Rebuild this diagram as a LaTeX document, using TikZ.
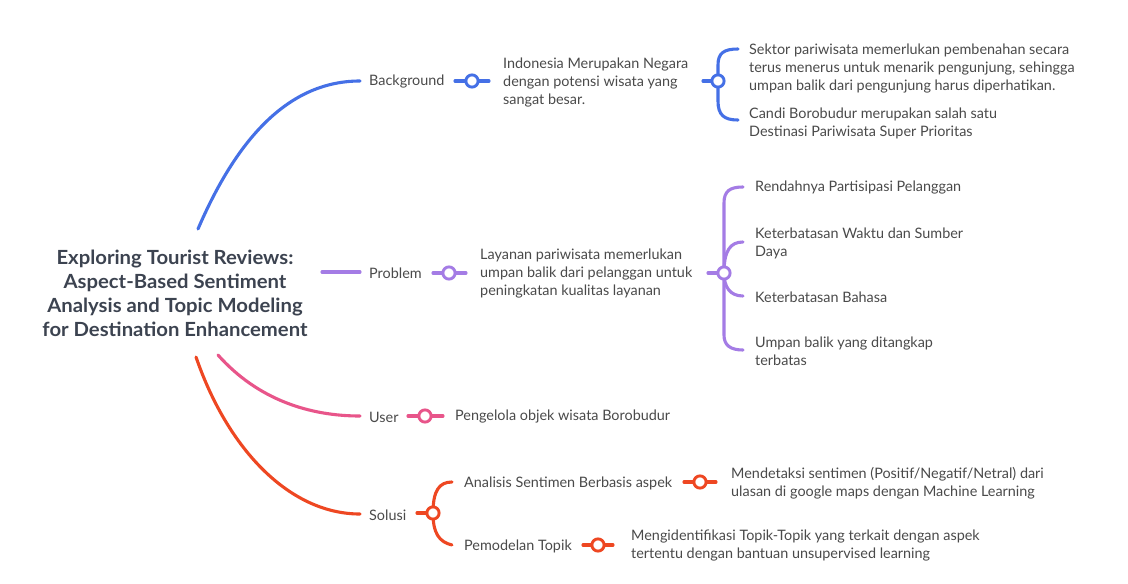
\documentclass[tikz,border=0pt]{standalone}
\usepackage{fontspec}
\setmainfont{Lato}
\newfontfamily\titlefont[FakeStretch=1.04]{Lato}
\usetikzlibrary{calc}
\definecolor{cblue}{HTML}{4570E6}
\definecolor{cpurple}{HTML}{A47CE5}
\definecolor{cpink}{HTML}{E8558A}
\definecolor{cred}{HTML}{EE4722}
\definecolor{textgray}{HTML}{4A4A4A}
\definecolor{titlegray}{HTML}{3C4350}
\begin{document}
\begin{tikzpicture}[x=1pt,y=-1pt,
  txt/.style={inner sep=0pt, anchor=west, align=left, text=textgray, font=\fontsize{14.4}{18}\selectfont},
  ttl/.style={inner sep=0pt, align=center, text=titlegray, font=\titlefont\bfseries\fontsize{19.5}{24}\selectfont},
  conn/.style={line width=3.1pt, line cap=round},
  knob/.style={circle, draw, fill=white, line width=2.9pt, minimum size=12.2pt, inner sep=0pt}]
\useasboundingbox[fill=white] (0,0) rectangle (1128,584);

% nodes
\node[ttl] (title) at (175,293) {Exploring Tourist Reviews:\\Aspect-Based Sentiment\\Analysis and Topic Modeling\\for Destination Enhancement};

\node[txt] (bg) at (369,82) {Background};
\node[txt] (bg1) at (503,83) {Indonesia Merupakan Negara\\dengan potensi wisata yang\\sangat besar.};
\node[txt] (bg11) at (749,69) {Sektor pariwisata memerlukan pembenahan secara\\terus menerus untuk menarik pengunjung, sehingga\\umpan balik dari pengunjung harus diperhatikan.};
\node[txt] (bg12) at (749,123) {Candi Borobudur merupakan salah satu\\Destinasi Pariwisata Super Prioritas};

\node[txt] (pr) at (369,273) {Problem};
\node[txt] (pr1) at (480,274) {Layanan pariwisata memerlukan\\umpan balik dari pelanggan untuk\\peningkatan kualitas layanan};
\node[txt] (pr11) at (755,188) {Rendahnya Partisipasi Pelanggan};
\node[txt] (pr12) at (755,243) {Keterbatasan Waktu dan Sumber\\Daya};
\node[txt] (pr13) at (755,297) {Keterbatasan Bahasa};
\node[txt] (pr14) at (755,351) {Umpan balik yang ditangkap\\terbatas};

\node[txt] (us) at (369,417) {User};
\node[txt] (us1) at (455,417) {Pengelola objek wisata Borobudur};

\node[txt] (so) at (369,515) {Solusi};
\node[txt] (so1) at (464,483) {Analisis Sentimen Berbasis aspek};
\node[txt] (so11) at (731,483) {Mendetaksi sentimen (Positif/Negatif/Netral) dari\\ulasan di google maps dengan Machine Learning};
\node[txt] (so2) at (464,546) {Pemodelan Topik};
\node[txt] (so21) at (631,546) {Mengidentifikasi Topik-Topik yang terkait dengan aspek\\tertentu dengan bantuan unsupervised learning};

% anchor coordinates
\coordinate (tB) at (198,229);
\coordinate (tP) at (322,272);
\coordinate (tU) at (218,355);
\coordinate (tS) at (196,357);
\coordinate (eB) at ($(bg.west)+(-9,-1)$);
\coordinate (eP) at ($(pr.west)+(-9,-1)$);
\coordinate (eU) at ($(us.west)+(-9,-1)$);
\coordinate (eS) at ($(so.west)+(-9,-1)$);

% circle positions
\coordinate (kb) at (472,81);
\coordinate (kb1) at (718,81);
\coordinate (kp) at (449,273);
\coordinate (kp1) at (724,273);
\coordinate (ku) at (425,416);
\coordinate (ks) at (433,513);
\coordinate (ks1) at (700,482);
\coordinate (ks2) at (598,545);

% main branches
\draw[conn, cblue] (tB) .. controls (232,150) and (282,81) .. (eB);
\draw[conn, cpurple] (tP) -- (eP);
\draw[conn, cpink] (tU) .. controls (258,400) and (310,416) .. (eU);
\draw[conn, cred] (tS) .. controls (228,450) and (290,514) .. (eS);

% blue
\draw[conn, cblue] ($(kb)+(-17,0)$) -- ($(kb)+(17,0)$);
\draw[conn, cblue] ($(kb1)+(-15,0)$) -- (kb1);
\draw[conn, cblue] (kb1) -- ($(kb1)+(0,-16)$) .. controls ($(kb1)+(0,-28)$) and ($(kb1)+(6,-32)$) .. ($(bg11.west)+(-11,-20)$);
\draw[conn, cblue] (kb1) -- ($(kb1)+(0,20)$) .. controls ($(kb1)+(0,34)$) and ($(kb1)+(6,39)$) .. ($(bg12.west)+(-11,-3)$);

% purple
\draw[conn, cpurple] ($(kp)+(-16,0)$) -- ($(kp)+(17,0)$);
\draw[conn, cpurple] ($(kp1)+(-16,0)$) -- (kp1);
\draw[conn, cpurple] (kp1) -- ($(kp1)+(0,-70)$) .. controls ($(kp1)+(0,-82)$) and ($(kp1)+(6,-86)$) .. ($(pr11.west)+(-12,-1)$);
\draw[conn, cpurple] (kp1) .. controls ($(kp1)+(0,-22)$) and ($(kp1)+(6,-31)$) .. ($(pr12.west)+(-12,-1)$);
\draw[conn, cpurple] (kp1) .. controls ($(kp1)+(0,14)$) and ($(kp1)+(6,23)$) .. ($(pr13.west)+(-12,-1)$);
\draw[conn, cpurple] (kp1) -- ($(kp1)+(0,62)$) .. controls ($(kp1)+(0,72)$) and ($(kp1)+(6,77)$) .. ($(pr14.west)+(-12,-1)$);

% pink
\draw[conn, cpink] ($(ku)+(-17,0)$) -- ($(ku)+(18,0)$);

% red
\draw[conn, cred] ($(ks)+(-16,0)$) -- (ks);
\draw[conn, cred] (ks) .. controls ($(ks)+(0,-22)$) and ($(ks)+(6,-31)$) .. ($(so1.west)+(-12,-1)$);
\draw[conn, cred] (ks) .. controls ($(ks)+(0,20)$) and ($(ks)+(6,29)$) .. ($(so2.west)+(-12,-1)$);
\draw[conn, cred] ($(ks1)+(-16,0)$) -- ($(ks1)+(16,0)$);
\draw[conn, cred] ($(ks2)+(-15,0)$) -- ($(ks2)+(15,0)$);

% knobs on top
\node[knob, draw=cblue] (nkb) at (kb) {};
\node[knob, draw=cblue] (nkb1) at (kb1) {};
\node[knob, draw=cpurple] (nkp) at (kp) {};
\node[knob, draw=cpurple] (nkp1) at (kp1) {};
\node[knob, draw=cpink] (nku) at (ku) {};
\node[knob, draw=cred] (nks) at (ks) {};
\node[knob, draw=cred] (nks1) at (ks1) {};
\node[knob, draw=cred] (nks2) at (ks2) {};
\end{tikzpicture}
\end{document}
